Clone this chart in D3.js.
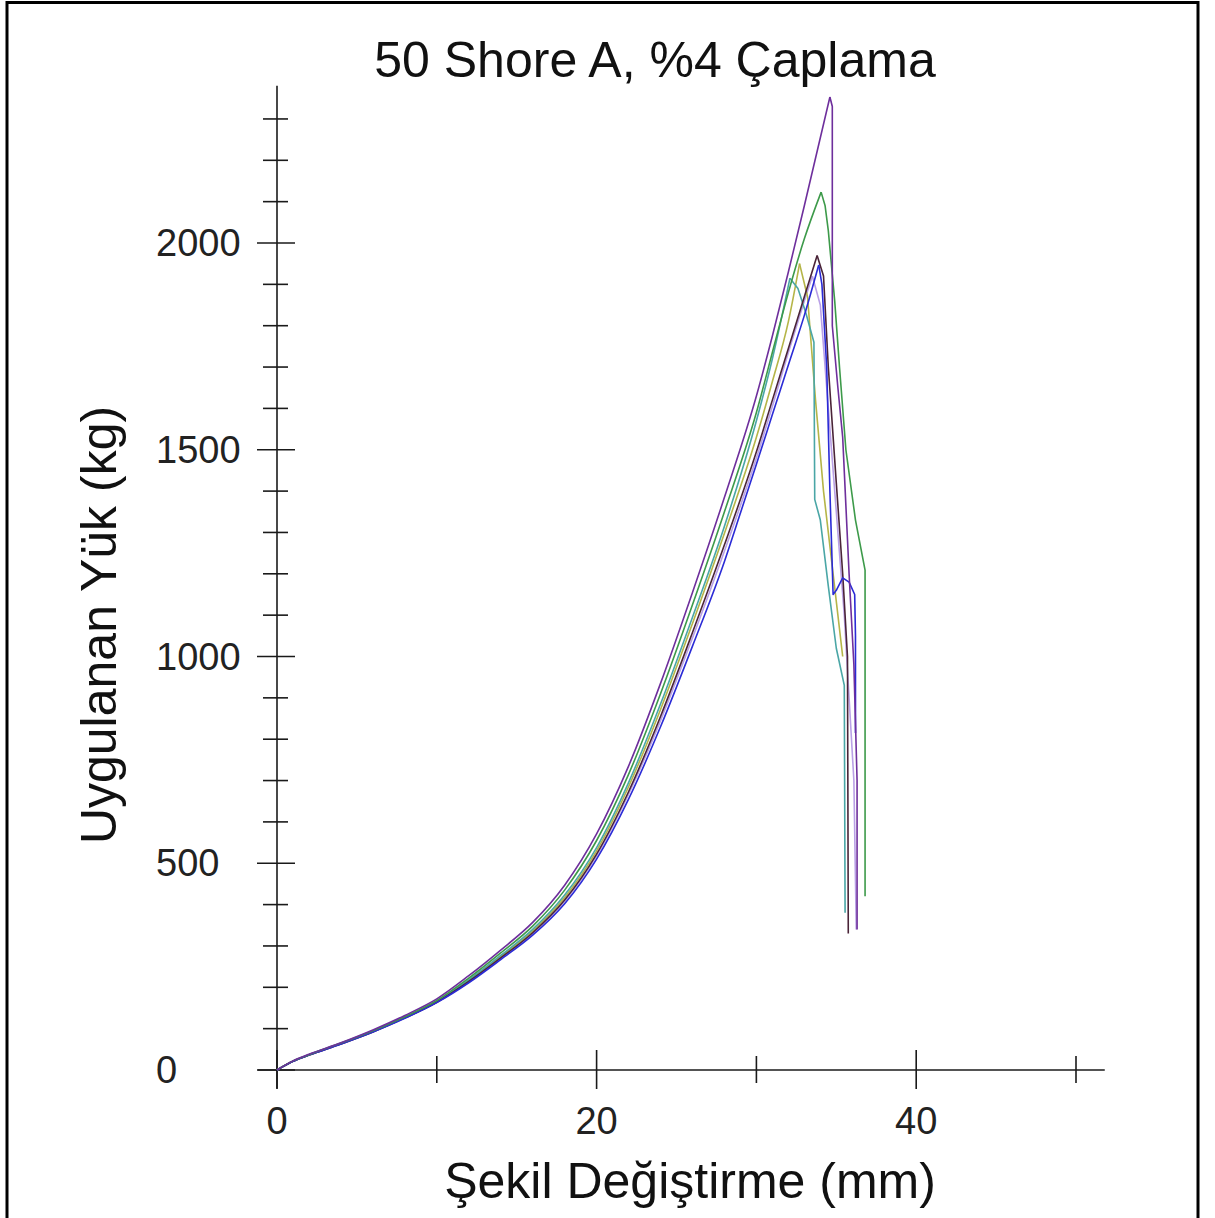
<!DOCTYPE html>
<html>
<head>
<meta charset="utf-8">
<script src="https://cdn.jsdelivr.net/npm/d3@7"></script>
<style>
  body { margin: 0; background: #fff; }
  svg { display: block; font-family: "Liberation Sans", Arial, sans-serif; }
</style>
</head>
<body>
<svg id="chart" width="1215" height="1218"></svg>
<script>
// load (kg) vs. deformation (mm) readings, one pair of arrays per specimen:
// the rising part up to the peak, then the failure part after it

var purpleRise = [[0,0],[1,22],[2,38],[4,66],[6,97],[8,132],[10,172],[12,228],[14,290],[16,357],[18,447],[20,571],[22,735],[24,935],[26,1155],[28,1385],[30,1630],[31,1775],[32,1930],[33,2090],[34.6,2353]];
var purpleTail = [[34.6,2353],[34.75,2330],[34.75,1800],[35.1,1650],[35.4,1530],[35.8,1200],[36.1,980],[36.3,700],[36.3,340]];

var greenRise = [[0,0],[1,22],[2,37],[4,65],[6,95],[8,129],[10,168],[12,222],[14,283],[16,348],[18,435],[20,555],[22,715],[24,910],[26,1125],[28,1350],[30,1590],[31.2,1765],[32,1880],[33,2010],[34.05,2123]];
var greenTail = [[34.05,2123],[34.3,2090],[34.5,2030],[34.9,1860],[35.2,1700],[35.6,1500],[36.2,1330],[36.8,1209],[36.8,420]];

var tealRise = [[0,0],[1,21],[2,37],[4,64],[6,94],[8,127],[10,166],[12,218],[14,277],[16,340],[18,423],[20,538],[22,695],[24,885],[26,1095],[28,1315],[30,1570],[31,1720],[32.1,1915]];
var tealTail = [[32.1,1915],[32.6,1890],[33.1,1830],[33.6,1760],[33.65,1380],[34,1330],[34.5,1170],[35,1020],[35.5,930],[35.55,380]];

var oliveRise = [[0,0],[1,21],[2,36],[4,64],[6,93],[8,127],[10,165],[12,216],[14,274],[16,336],[18,417],[20,530],[22,685],[24,872],[26,1080],[28,1298],[30,1530],[31,1665],[32,1810],[32.7,1950]];
var oliveTail = [[32.7,1950],[33.2,1870],[33.7,1620],[34.2,1400],[34.8,1200],[35.4,1000]];

var maroonRise = [[0,0],[1,21],[2,36],[4,63],[6,92],[8,126],[10,164],[12,214],[14,271],[16,332],[18,411],[20,522],[22,673],[24,855],[26,1058],[28,1270],[30,1495],[31,1620],[32,1745],[33,1870],[33.8,1970]];
var maroonTail = [[33.8,1970],[34.2,1920],[34.5,1700],[35,1420],[35.4,1200],[35.7,1000],[35.75,330]];

var blueRise = [[0,0],[1,21],[2,36],[4,63],[6,92],[8,125],[10,163],[12,211],[14,267],[16,326],[18,402],[20,510],[22,655],[24,830],[26,1025],[28,1230],[29,1347],[30,1465],[31,1585],[32,1705],[33,1825],[33.9,1947]];
var blueTail = [[33.9,1947],[34.1,1900],[34.4,1700],[34.6,1400],[34.8,1150],[35,1160],[35.4,1190],[35.8,1180],[36.15,1150],[36.2,1050],[36.2,815]];

var lavenderRise = [[0,0],[1,21],[2,36],[4,63],[6,92],[8,126],[10,164],[12,213],[14,270],[16,330],[18,408],[20,518],[22,667],[24,845],[26,1045],[28,1255],[30,1480],[31,1605],[32,1735],[33,1860],[33.5,1920]];
var lavenderTail = [[33.5,1920],[34,1850],[34.5,1600],[35,1350],[35.5,1100],[35.8,900],[36.1,700],[36.25,340]];

var seriesNames = ["lavender", "olive", "teal", "maroon", "blue", "green", "purple"];
var seriesRise = [lavenderRise, oliveRise, tealRise, maroonRise, blueRise, greenRise, purpleRise];
var seriesTail = [lavenderTail, oliveTail, tealTail, maroonTail, blueTail, greenTail, purpleTail];
var seriesColors = ["#b9a0e6", "#b5b548", "#4aa6a6", "#4a2438", "#2b2bd6", "#3d9a4a", "#6e2f9c"];

var xMajor = [0, 20, 40];
var xMinor = [10, 30, 50];
var yMajor = [0, 500, 1000, 1500, 2000];
var yMinor = [100, 200, 300, 400, 600, 700, 800, 900, 1100, 1200, 1300, 1400, 1600, 1700, 1800, 1900, 2100, 2200, 2300];

var titleText = "50 Shore A, %4 Çaplama";
var xTitle = "Şekil Değiştirme (mm)";
var yTitle = "Uygulanan Yük (kg)";

var svg = d3.select('#chart');

var x = d3.scaleLinear().domain([0, 50]).range([277, 1076]);
var y = d3.scaleLinear().domain([0, 2000]).range([1070, 243]);

// outer frame
svg.append('rect')
  .attr('x', 7).attr('y', 2.5)
  .attr('width', 1191).attr('height', 1230)
  .attr('fill', 'none').attr('stroke', '#000').attr('stroke-width', 3);

var axes = svg.append('g').attr('stroke', '#1a1a1a').attr('stroke-width', 1.6);

// x axis line + ticks
axes.append('line')
  .attr('x1', x(-1.2)).attr('x2', x(51.8))
  .attr('y1', y(0)).attr('y2', y(0));
axes.selectAll('.xmaj').data(xMajor).enter().append('line')
  .attr('x1', function(d) { return x(d); }).attr('x2', function(d) { return x(d); })
  .attr('y1', y(0) - 20).attr('y2', y(0) + 19);
axes.selectAll('.xmin').data(xMinor).enter().append('line')
  .attr('x1', function(d) { return x(d); }).attr('x2', function(d) { return x(d); })
  .attr('y1', y(0) - 14).attr('y2', y(0) + 13);

// y axis line + ticks
axes.append('line')
  .attr('x1', x(0)).attr('x2', x(0))
  .attr('y1', y(-45)).attr('y2', y(2380));
axes.selectAll('.ymaj').data(yMajor).enter().append('line')
  .attr('x1', x(0) - 20).attr('x2', x(0) + 18)
  .attr('y1', function(d) { return y(d); }).attr('y2', function(d) { return y(d); });
axes.selectAll('.ymin').data(yMinor).enter().append('line')
  .attr('x1', x(0) - 14).attr('x2', x(0) + 11)
  .attr('y1', function(d) { return y(d); }).attr('y2', function(d) { return y(d); });

// tick labels
svg.selectAll('.xlab').data(xMajor).enter().append('text')
  .attr('x', function(d) { return x(d); })
  .attr('y', y(0) + 64)
  .attr('text-anchor', 'middle')
  .attr('font-size', 38).attr('fill', '#222')
  .text(function(d) { return d; });

svg.selectAll('.ylab').data(yMajor).enter().append('text')
  .attr('x', 156)
  .attr('y', function(d) { return y(d) + 13; })
  .attr('font-size', 38).attr('fill', '#222')
  .text(function(d) { return d; });

// curves: smooth rise, straight failure segments
var riseLine = d3.line()
  .x(function(d) { return x(d[0]); })
  .y(function(d) { return y(d[1]); })
  .curve(d3.curveMonotoneX);
var tailLine = d3.line()
  .x(function(d) { return x(d[0]); })
  .y(function(d) { return y(d[1]); });

var curves = svg.append('g').attr('fill', 'none').attr('stroke-width', 1.6)
  .attr('stroke-linejoin', 'round');
seriesNames.forEach(function(name, i) {
  var g = curves.append('g').attr('class', name).attr('stroke', seriesColors[i]);
  g.append('path').attr('d', riseLine(seriesRise[i]));
  g.append('path').attr('d', tailLine(seriesTail[i]));
});

// titles
svg.append('text')
  .attr('x', 655).attr('y', 77)
  .attr('text-anchor', 'middle')
  .attr('font-size', 50).attr('fill', '#111')
  .text(titleText);

svg.append('text')
  .attr('x', 690).attr('y', 1198)
  .attr('text-anchor', 'middle')
  .attr('font-size', 50).attr('fill', '#111')
  .text(xTitle);

svg.append('text')
  .attr('transform', 'translate(116,625) rotate(-90)')
  .attr('text-anchor', 'middle')
  .attr('font-size', 50).attr('fill', '#111')
  .text(yTitle);
</script>
</body>
</html>
